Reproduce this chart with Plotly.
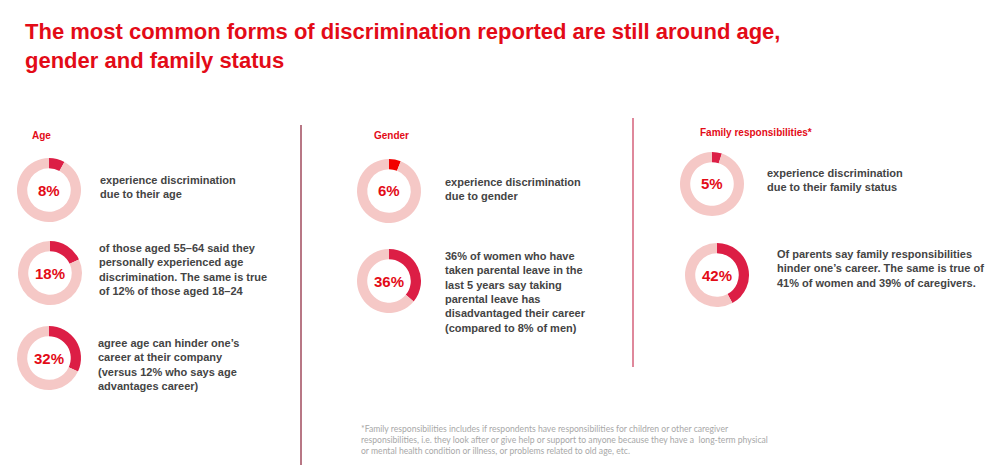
import plotly.graph_objects as go

# ---- data ----
title_text = ("The most common forms of discrimination reported are still around age,<br>"
              "gender and family status")
headings = ["Age", "Gender", "Family responsibilities*"]
group_of_stat = [0, 0, 0, 1, 1, 2, 2]
stat_values = [8, 18, 32, 6, 36, 5, 42]
stat_labels = ["8%", "18%", "32%", "6%", "36%", "5%", "42%"]
descriptions = [
    "experience discrimination<br>due to their age",
    "of those aged 55–64 said they<br>personally experienced age<br>discrimination. The same is true<br>of 12% of those aged 18–24",
    "agree age can hinder one’s<br>career at their company<br>(versus 12% who says age<br>advantages career)",
    "experience discrimination<br>due to gender",
    "36% of women who have<br>taken parental leave in the<br>last 5 years say taking<br>parental leave has<br>disadvantaged their career<br>(compared to 8% of men)",
    "experience discrimination<br>due to their family status",
    "Of parents say family responsibilities<br>hinder one’s career. The same is true of<br>41% of women and 39% of caregivers.",
]
footnote = ("*Family responsibilities includes if respondents have responsibilities for children or other caregiver<br>"
            "responsibilities, i.e. they look after or give help or support to anyone because they have a  long-term physical<br>"
            "or mental health condition or illness, or problems related to old age, etc.")

# ---- layout (page pixels) ----
PAGE_W, PAGE_H = 995, 473
OFF = 8  # default body margin of the html page
W, H = PAGE_W - 2 * OFF, PAGE_H - 2 * OFF
R = 32
donut_centers = [(49, 190), (50, 273), (49, 358), (389, 191), (389, 281), (712, 184), (717, 275)]
desc_pos = [(98, 187), (97, 269), (96, 364), (443, 189), (443, 292), (765, 180), (775, 268)]
heading_pos = [(30, 135), (372, 135), (698, 132)]
arc_colors = ["#dc1e45", "#dc1e45", "#dc1e45", "#f20000", "#dc1e45", "#dc1e45", "#dc1e45"]
track_color = "#f5c8c6"
red = "#e30b17"

def px(x):
    return (x - OFF) / W

def py(y):
    return 1 - (y - OFF) / H

fig = go.Figure()
for i, v in enumerate(stat_values):
    cx, cy = donut_centers[i]
    fig.add_trace(go.Pie(
        values=[v, 100 - v],
        sort=False,
        direction="clockwise",
        rotation=0,
        hole=0.68,
        marker=dict(colors=[arc_colors[i], track_color], line=dict(width=0)),
        textinfo="none",
        hoverinfo="skip",
        showlegend=False,
        domain=dict(x=[px(cx - R), px(cx + R)], y=[py(cy + R), py(cy - R)]),
    ))

annotations = []
annotations.append(dict(
    text=title_text, x=px(23), y=py(17), xref="paper", yref="paper",
    xanchor="left", yanchor="top", align="left", showarrow=False,
    font=dict(family="Liberation Sans, Arial, sans-serif", size=22, color=red, weight="bold"),
))
for i, h in enumerate(headings):
    hx, hy = heading_pos[i]
    annotations.append(dict(
        text=h, x=px(hx), y=py(hy), xref="paper", yref="paper",
        xanchor="left", yanchor="middle", showarrow=False,
        font=dict(family="Liberation Sans, Arial, sans-serif", size=10, color=red, weight="bold"),
    ))
for i, lab in enumerate(stat_labels):
    cx, cy = donut_centers[i]
    annotations.append(dict(
        text=lab, x=px(cx), y=py(cy), xref="paper", yref="paper",
        xanchor="center", yanchor="middle", showarrow=False,
        font=dict(family="Liberation Sans, Arial, sans-serif", size=15, color=red, weight="bold"),
    ))
for i, d in enumerate(descriptions):
    dx, dy = desc_pos[i]
    annotations.append(dict(
        text=d, x=px(dx), y=py(dy), xref="paper", yref="paper",
        xanchor="left", yanchor="middle", align="left", showarrow=False,
        font=dict(family="Liberation Sans, Arial, sans-serif", size=11, color="#444444", weight="bold"),
    ))
annotations.append(dict(
    text=footnote, x=px(359), y=py(440), xref="paper", yref="paper",
    xanchor="left", yanchor="middle", align="left", showarrow=False,
    font=dict(family="Lato, Open Sans, sans-serif", size=8.6, color="#a8a8a8"),
))

shapes = [
    dict(type="line", xref="paper", yref="paper", x0=px(301), x1=px(301), y0=py(125), y1=py(PAGE_H - OFF),
         line=dict(color="#a04a5c", width=1.5)),
    dict(type="line", xref="paper", yref="paper", x0=px(633), x1=px(633), y0=py(118), y1=py(367),
         line=dict(color="#d4607a", width=1.5)),
]

fig.update_layout(
    width=W, height=H,
    margin=dict(l=0, r=0, t=0, b=0),
    paper_bgcolor="white", plot_bgcolor="white",
    annotations=annotations, shapes=shapes,
)
fig.write_html("out.html")
